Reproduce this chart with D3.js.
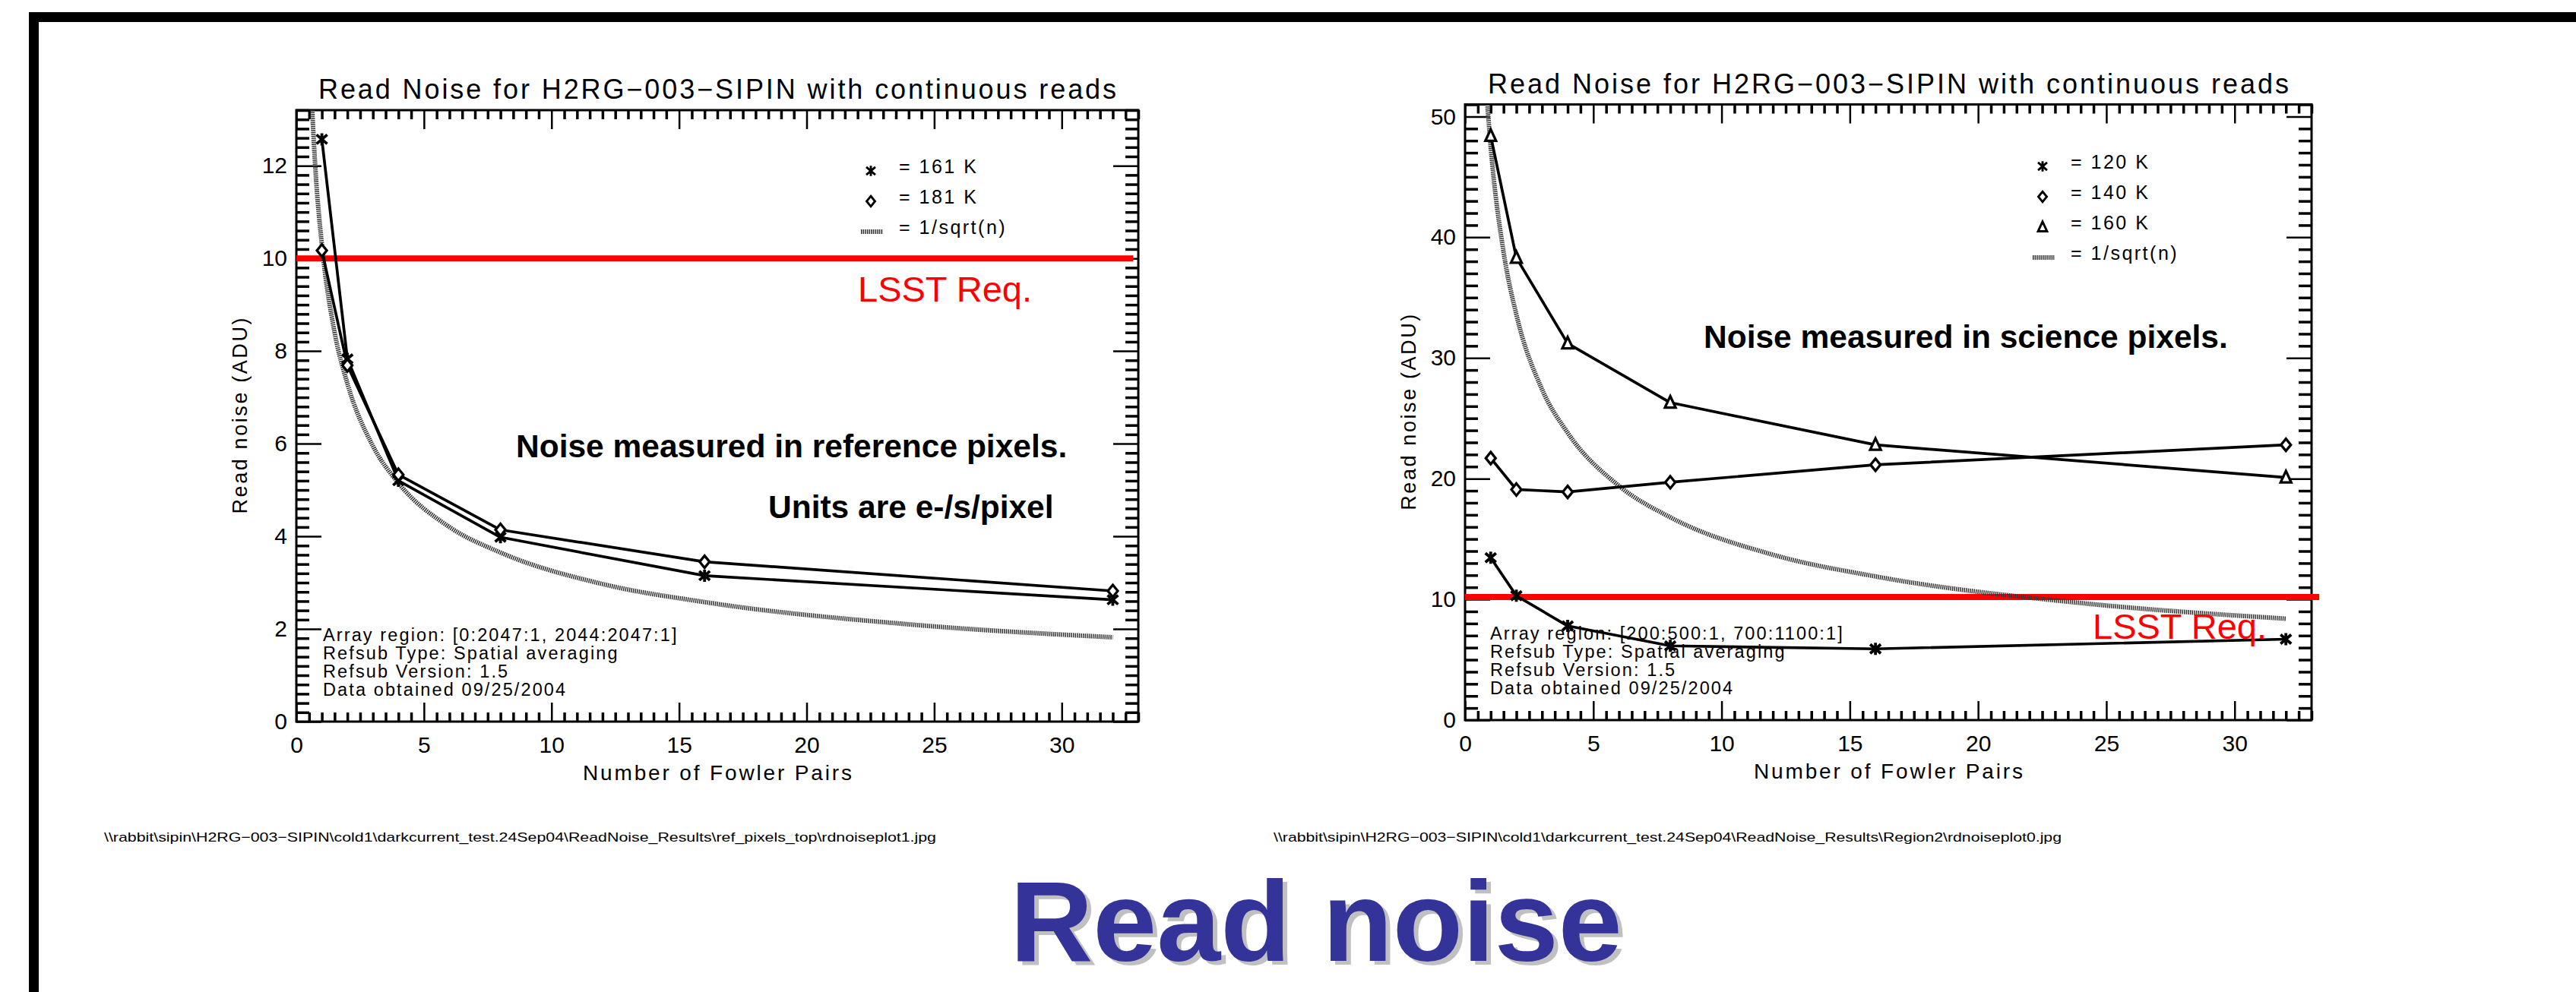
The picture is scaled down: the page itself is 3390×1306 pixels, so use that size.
<!DOCTYPE html>
<html>
<head>
<meta charset="utf-8">
<script src="https://cdn.jsdelivr.net/npm/d3@7"></script>
<style>
  html, body { margin: 0; padding: 0; background: #fff; }
  svg { display: block; }
  .idl text { font-family: 'Liberation Sans', Arial, sans-serif; fill: #000; }
</style>
</head>
<body>
<svg id="slide"></svg>
<script>
'use strict'

const width = 3390,
  height = 1306

// number of Fowler pairs, same for every series
const fowlerPairs = [1, 2, 4, 8, 16, 32]

// reference pixels (ADU)
const refNoise161K = [12.57, 7.83, 5.2, 3.98, 3.15, 2.63]
const refNoise181K = [10.17, 7.69, 5.33, 4.14, 3.45, 2.82]
const refSqrtN = [0.62, 0.75, 1, 1.5, 2, 3, 4, 6, 8, 12, 16, 24, 32]
const refSqrtNoise = [13.2, 11.9, 10.3, 8.4, 7.3, 5.95, 5.15, 4.2, 3.65, 2.97, 2.58, 2.1, 1.82]
const refLsst = 10

// science pixels (ADU)
const sciNoise120K = [13.45, 10.3, 7.8, 6.15, 5.9, 6.7]
const sciNoise140K = [21.7, 19.1, 18.9, 19.7, 21.15, 22.8]
const sciNoise160K = [48.4, 38.3, 31.2, 26.3, 22.8, 20.1]
const sciSqrtN = [0.87, 1, 1.5, 2, 3, 4, 6, 8, 12, 16, 24, 32]
const sciSqrtNoise = [51, 47.5, 38.8, 33.6, 27.4, 23.8, 19.4, 16.8, 13.7, 11.9, 9.7, 8.4]
const sciLsst = 10.2

// tick labels
const xTicks = [0, 5, 10, 15, 20, 25, 30]
const refYTicks = [0, 2, 4, 6, 8, 10, 12]
const sciYTicks = [0, 10, 20, 30, 40, 50]

const refLegend = ['= 161 K', '= 181 K', '= 1/sqrt(n)']
const sciLegend = ['= 120 K', '= 140 K', '= 160 K', '= 1/sqrt(n)']

const plotTitle = 'Read Noise for H2RG\u2212003\u2212SIPIN with continuous reads'
const refInfo = [
  'Array region: [0:2047:1, 2044:2047:1]',
  'Refsub Type: Spatial averaging',
  'Refsub Version: 1.5',
  'Data obtained 09/25/2004'
]
const sciInfo = [
  'Array region: [200:500:1, 700:1100:1]',
  'Refsub Type: Spatial averaging',
  'Refsub Version: 1.5',
  'Data obtained 09/25/2004'
]
const refPath =
  '\\\\rabbit\\sipin\\H2RG\u2212003\u2212SIPIN\\cold1\\darkcurrent_test.24Sep04\\ReadNoise_Results\\ref_pixels_top\\rdnoiseplot1.jpg'
const sciPath =
  '\\\\rabbit\\sipin\\H2RG\u2212003\u2212SIPIN\\cold1\\darkcurrent_test.24Sep04\\ReadNoise_Results\\Region2\\rdnoiseplot0.jpg'

const font = "'Liberation Sans', Arial, sans-serif"
const sqrtColor = '#333',
  sqrtDash = '1.5 1.1'

const svg = d3
  .select('#slide')
  .attr('width', width)
  .attr('height', height)

svg.append('rect').attr('width', width).attr('height', height).attr('fill', '#fff')

// slide frame (top and left bars)
svg.append('rect').attr('x', 38).attr('y', 16).attr('width', width - 38).attr('height', 13).attr('fill', '#000')
svg.append('rect').attr('x', 38).attr('y', 16).attr('width', 13).attr('height', height - 16).attr('fill', '#000')

const panels = [
  {
    id: 'ref',
    left: 390, right: 1498, top: 145, bottom: 950,
    yMax: 13.2, yMinorStep: 0.2, yTicks: refYTicks,
    series: [
      { values: refNoise161K, symbol: 'asterisk' },
      { values: refNoise181K, symbol: 'diamond' }
    ],
    legendSymbols: ['asterisk', 'diamond', 'sqrt'],
    legend: refLegend,
    legendX: 1146, legendY: 219,
    sqrtN: refSqrtN, sqrtNoise: refSqrtNoise,
    lsst: refLsst, lsstEnd: 32.8, lsstLabel: [1129, 397],
    titleY: 130, titleWidth: 1050,
    info: refInfo, infoX: 425,
    notes: [
      { text: 'Noise measured in reference pixels.', x: 679, y: 602 },
      { text: 'Units are e-/s/pixel', x: 1011, y: 682 }
    ],
    path: refPath, pathX: 137, pathWidth: 1095
  },
  {
    id: 'sci',
    left: 1928, right: 3042, top: 137.5, bottom: 948,
    yMax: 51, yMinorStep: 1, yTicks: sciYTicks,
    series: [
      { values: sciNoise120K, symbol: 'asterisk' },
      { values: sciNoise140K, symbol: 'diamond' },
      { values: sciNoise160K, symbol: 'triangle' }
    ],
    legendSymbols: ['asterisk', 'diamond', 'triangle', 'sqrt'],
    legend: sciLegend,
    legendX: 2688, legendY: 213,
    sqrtN: sciSqrtN, sqrtNoise: sciSqrtNoise,
    lsst: sciLsst, lsstEnd: 33.3, lsstLabel: [2754, 841],
    titleY: 123, titleWidth: 1054,
    info: sciInfo, infoX: 1961,
    notes: [{ text: 'Noise measured in science pixels.', x: 2242, y: 458 }],
    path: sciPath, pathX: 1676, pathWidth: 1037
  }
]

function symbolPath(type) {
  if (type === 'asterisk') return 'M0,-8V8M-7,-6L7,6M-7,6L7,-6'
  if (type === 'diamond') return 'M0,-8L6.5,0L0,8L-6.5,0Z'
  if (type === 'triangle') return 'M0,-8.5L7,6.5H-7Z'
  return ''
}

function styleAxis(g, labels) {
  g.attr('font-size', null).attr('font-family', null)
  g.select('.domain').remove()
  g.selectAll('.tick line').attr('stroke', '#000')
  if (labels) {
    g.selectAll('.tick text')
      .style('font-size', '30px')
      .style('font-family', font)
      .attr('fill', '#000')
  }
}

panels.forEach(p => {
  const x = d3.scaleLinear().domain([0, 33]).range([p.left, p.right])
  const y = d3.scaleLinear().domain([0, p.yMax]).range([p.bottom, p.top])

  const g = svg.append('g').attr('class', 'idl')

  svg
    .append('clipPath')
    .attr('id', 'clip-' + p.id)
    .append('rect')
    .attr('x', p.left)
    .attr('y', p.top)
    .attr('width', p.right - p.left)
    .attr('height', p.bottom - p.top)

  // minor ticks
  const xMinor = d3.range(0, 33.001, 0.5).filter(v => Math.abs(v % 5) > 1e-6)
  const yMinor = d3
    .range(0, p.yMax + 1e-6, p.yMinorStep)
    .filter(v => !p.yTicks.some(t => Math.abs(t - v) < 1e-6))

  g.append('g')
    .attr('transform', 'translate(0,' + p.bottom + ')')
    .call(d3.axisBottom(x).tickValues(xMinor).tickSize(-12).tickFormat(''))
    .call(a => styleAxis(a, false))
    .selectAll('.tick line').attr('stroke-width', 3.5)
  g.append('g')
    .attr('transform', 'translate(0,' + p.top + ')')
    .call(d3.axisTop(x).tickValues(xMinor).tickSize(-12).tickFormat(''))
    .call(a => styleAxis(a, false))
    .selectAll('.tick line').attr('stroke-width', 3.5)
  g.append('g')
    .attr('transform', 'translate(' + p.left + ',0)')
    .call(d3.axisLeft(y).tickValues(yMinor).tickSize(-17).tickFormat(''))
    .call(a => styleAxis(a, false))
    .selectAll('.tick line').attr('stroke-width', 3.5)
  g.append('g')
    .attr('transform', 'translate(' + p.right + ',0)')
    .call(d3.axisRight(y).tickValues(yMinor).tickSize(-17).tickFormat(''))
    .call(a => styleAxis(a, false))
    .selectAll('.tick line').attr('stroke-width', 3.5)

  // major ticks with labels
  g.append('g')
    .attr('transform', 'translate(0,' + p.bottom + ')')
    .call(d3.axisBottom(x).tickValues(xTicks).tickSize(-25).tickPadding(20).tickFormat(d3.format('d')))
    .call(a => styleAxis(a, true))
    .selectAll('.tick line').attr('stroke-width', 2.5)
  g.append('g')
    .attr('transform', 'translate(0,' + p.top + ')')
    .call(d3.axisTop(x).tickValues(xTicks).tickSize(-25).tickFormat(''))
    .call(a => styleAxis(a, false))
    .selectAll('.tick line').attr('stroke-width', 2.5)
  g.append('g')
    .attr('transform', 'translate(' + p.left + ',0)')
    .call(d3.axisLeft(y).tickValues(p.yTicks).tickSize(-33).tickPadding(12).tickFormat(d3.format('d')))
    .call(a => styleAxis(a, true))
    .selectAll('.tick line').attr('stroke-width', 2.5)
  g.append('g')
    .attr('transform', 'translate(' + p.right + ',0)')
    .call(d3.axisRight(y).tickValues(p.yTicks).tickSize(-33).tickFormat(''))
    .call(a => styleAxis(a, false))
    .selectAll('.tick line').attr('stroke-width', 2.5)

  // plot box
  g.append('rect')
    .attr('x', p.left)
    .attr('y', p.top)
    .attr('width', p.right - p.left)
    .attr('height', p.bottom - p.top)
    .attr('fill', 'none')
    .attr('stroke', '#000')
    .attr('stroke-width', 3)

  // LSST requirement
  g.append('line')
    .attr('x1', x(0))
    .attr('x2', x(p.lsstEnd))
    .attr('y1', y(p.lsst))
    .attr('y2', y(p.lsst))
    .attr('stroke', '#ff0000')
    .attr('stroke-width', 8)

  // 1/sqrt(n) reference curve
  const sqrtData = p.sqrtN.map((n, i) => ({ n: n, v: p.sqrtNoise[i] }))
  g.append('path')
    .datum(sqrtData)
    .attr('clip-path', 'url(#clip-' + p.id + ')')
    .attr('fill', 'none')
    .attr('stroke', sqrtColor)
    .attr('stroke-width', 6)
    .attr('stroke-dasharray', sqrtDash)
    .attr('d', d3.line().x(d => x(d.n)).y(d => y(d.v)).curve(d3.curveMonotoneX))

  // measured series
  const line = d3.line().x(d => x(d.n)).y(d => y(d.v))
  p.series.forEach(s => {
    const pts = fowlerPairs.map((n, i) => ({ n: n, v: s.values[i] }))
    g.append('path')
      .datum(pts)
      .attr('fill', 'none')
      .attr('stroke', '#000')
      .attr('stroke-width', 3.7)
      .attr('stroke-linejoin', 'round')
      .attr('d', line)
    g.selectAll(null)
      .data(pts)
      .enter()
      .append('path')
      .attr('transform', d => 'translate(' + x(d.n) + ',' + y(d.v) + ')')
      .attr('d', symbolPath(s.symbol))
      .attr('fill', s.symbol === 'asterisk' ? 'none' : '#fff')
      .attr('stroke', '#000')
      .attr('stroke-width', s.symbol === 'asterisk' ? 3.8 : 3.3)
  })

  // legend
  p.legend.forEach((label, i) => {
    const ly = p.legendY + i * 40
    const sym = p.legendSymbols[i]
    if (sym === 'sqrt') {
      g.append('line')
        .attr('x1', p.legendX - 13)
        .attr('x2', p.legendX + 16)
        .attr('y1', ly + 6)
        .attr('y2', ly + 6)
        .attr('stroke', sqrtColor)
        .attr('stroke-width', 6)
        .attr('stroke-dasharray', sqrtDash)
    } else {
      g.append('path')
        .attr('transform', 'translate(' + p.legendX + ',' + (ly + 6) + ') scale(0.85)')
        .attr('d', symbolPath(sym))
        .attr('fill', sym === 'asterisk' ? 'none' : '#fff')
        .attr('stroke', '#000')
        .attr('stroke-width', 3.4)
    }
    g.append('text')
      .attr('x', p.legendX + 37)
      .attr('y', ly)
      .attr('dy', '0.35em')
      .style('font-size', '25px')
      .style('letter-spacing', '0.1em')
      .text(label)
  })

  // titles
  g.append('text')
    .attr('x', (p.left + p.right) / 2)
    .attr('y', p.titleY)
    .attr('text-anchor', 'middle')
    .attr('textLength', p.titleWidth)
    .attr('lengthAdjust', 'spacing')
    .style('font-size', '36px')
    .text(plotTitle)

  g.append('text')
    .attr('x', (p.left + p.right) / 2)
    .attr('y', p.bottom + 77)
    .attr('text-anchor', 'middle')
    .attr('textLength', 354)
    .attr('lengthAdjust', 'spacing')
    .style('font-size', '28px')
    .text('Number of Fowler Pairs')

  g.append('text')
    .attr('transform', 'translate(' + (p.left - 65) + ',' + (p.top + p.bottom) / 2 + ') rotate(-90)')
    .attr('text-anchor', 'middle')
    .attr('textLength', 258)
    .attr('lengthAdjust', 'spacing')
    .style('font-size', '27px')
    .text('Read  noise  (ADU)')

  // run info
  p.info.forEach((t, i) => {
    g.append('text')
      .attr('x', p.infoX)
      .attr('y', p.bottom - 106 + i * 24)
      .style('font-size', '23.5px')
      .style('letter-spacing', '0.09em')
      .text(t)
  })

  // bold notes
  p.notes.forEach(n => {
    g.append('text')
      .attr('x', n.x)
      .attr('y', n.y)
      .style('font-size', '42.5px')
      .style('font-weight', 'bold')
      .text(n.text)
  })

  g.append('text')
    .attr('x', p.lsstLabel[0])
    .attr('y', p.lsstLabel[1])
    .style('font-size', '47px')
    .style('fill', '#ff0000')
    .text('LSST Req.')

  // file path under the plot
  g.append('text')
    .attr('x', p.pathX)
    .attr('y', 1108)
    .attr('textLength', p.pathWidth)
    .attr('lengthAdjust', 'spacingAndGlyphs')
    .style('font-size', '17px')
    .text(p.path)
})

// slide heading with drop shadow
const heading = svg.append('g').style('font-family', font).style('font-weight', 'bold').style('font-size', '151px')
heading
  .append('text')
  .attr('x', 1732 + 6)
  .attr('y', 1265 + 5)
  .attr('text-anchor', 'middle')
  .attr('fill', '#c0c0c0')
  .text('Read noise')
heading
  .append('text')
  .attr('x', 1732)
  .attr('y', 1265)
  .attr('text-anchor', 'middle')
  .attr('fill', '#333399')
  .text('Read noise')
</script>
</body>
</html>
